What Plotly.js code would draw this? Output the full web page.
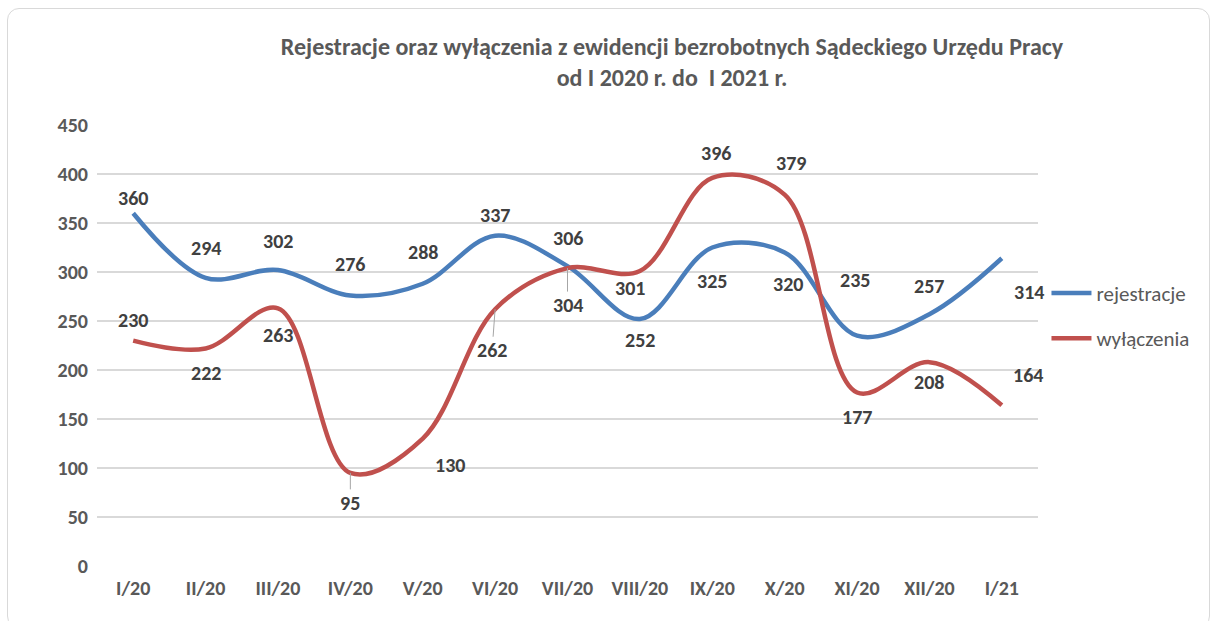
<!DOCTYPE html>
<html>
<head>
<meta charset="utf-8">
<script src="https://cdn.plot.ly/plotly-3.0.1.min.js"></script>
<style>
  html, body { margin: 0; padding: 0; background: #ffffff; }
  #chart { width: 1213px; height: 621px; position: relative; }
  #frame { position: absolute; left: 7px; top: 8px; width: 1203px; height: 620px;
           border: 1.5px solid #d9d9d9; border-radius: 12px; pointer-events: none; box-sizing: border-box; }
</style>
</head>
<body>
<div id="chart"></div>
<div id="frame"></div>
<script>
const categories = ["I/20","II/20","III/20","IV/20","V/20","VI/20","VII/20","VIII/20","IX/20","X/20","XI/20","XII/20","I/21"];
const rejestracje = [360, 294, 302, 276, 288, 337, 306, 252, 325, 320, 235, 257, 314];
const wylaczenia  = [230, 222, 263, 95, 130, 262, 304, 301, 396, 379, 177, 208, 164];

// label placement (pixel offsets: dx, dy; third flag = leader line)
const blueLabelPos = [[0,-15],[0,-30],[0,-29],[0,-32],[0,-32],[0,-21],[0,-28],[0,21],[0,33],[3,32],[-2,-56],[0,-28],[27,34]];
const redLabelPos  = [[0,-21],[0,25],[0,27],[0,30,1],[27,26],[-3,41,1],[0,37,1],[-10,17],[4,-25],[6,-32],[0,24],[0,20],[26,-30]];

const FONT = "Carlito, Lato, 'Open Sans', sans-serif";
const BLUE = "#4a7ebb", RED = "#c0504d";
const LABEL_FONT = {family: FONT, size: 20, color: "#404040", weight: "bold"};

const traces = [
  {x: categories, y: rejestracje, name: "rejestracje", type: "scatter", mode: "lines",
   line: {color: BLUE, width: 4.5, shape: "spline", smoothing: 1}, legendgroup: "a"},
  {x: categories, y: wylaczenia, name: "wyłączenia", type: "scatter", mode: "lines",
   line: {color: RED, width: 4.5, shape: "spline", smoothing: 1}, legendgroup: "b"}
];

const annotations = [];
function addLabels(vals, pos) {
  vals.forEach((v, i) => {
    const p = pos[i];
    if (p[2]) {
      annotations.push({x: categories[i], y: v, xref: "x", yref: "y", text: String(v),
        showarrow: true, arrowhead: 0, arrowwidth: 1, arrowcolor: "#a6a6a6",
        ax: p[0], ay: p[1], standoff: 0, font: LABEL_FONT});
    } else {
      annotations.push({x: categories[i], y: v, xref: "x", yref: "y", text: String(v),
        showarrow: false, xshift: p[0], yshift: -p[1], font: LABEL_FONT});
    }
  });
}
addLabels(rejestracje, blueLabelPos);
addLabels(wylaczenia, redLabelPos);

const layout = {
  width: 1213, height: 621,
  margin: {l: 97, r: 175, t: 125, b: 55},
  paper_bgcolor: "#ffffff", plot_bgcolor: "#ffffff",
  title: {text: "<b>Rejestracje oraz wyłączenia z ewidencji bezrobotnych Sądeckiego Urzędu Pracy<br>od I 2020 r. do  I 2021 r.</b>",
          x: 0.554, xanchor: "center", y: 0.912, yanchor: "top",
          font: {family: FONT, size: 24, color: "#595959", lineposition: "none"}},
  xaxis: {type: "category", range: [-0.5, 12.5], showgrid: false, zeroline: false, showline: false,
          ticks: "", ticklabelstandoff: 8,
          tickfont: {family: FONT, size: 20, color: "#595959", weight: "bold"}, fixedrange: true},
  yaxis: {range: [0, 450], dtick: 50, showgrid: true, gridcolor: "#d9d9d9", gridwidth: 1.3,
          zeroline: false, showline: false, ticks: "", ticklabelstandoff: 8,
          tickfont: {family: FONT, size: 20, color: "#595959", weight: "bold"}, fixedrange: true},
  showlegend: true,
  legend: {x: 1.009, xanchor: "left", y: 0.665, yanchor: "top", traceorder: "grouped", tracegroupgap: 15,
           font: {family: FONT, size: 21, color: "#595959"}, bgcolor: "rgba(0,0,0,0)", itemwidth: 40},
  annotations: annotations
};

Plotly.newPlot("chart", traces, layout, {displayModeBar: false, staticPlot: true});
</script>
</body>
</html>
